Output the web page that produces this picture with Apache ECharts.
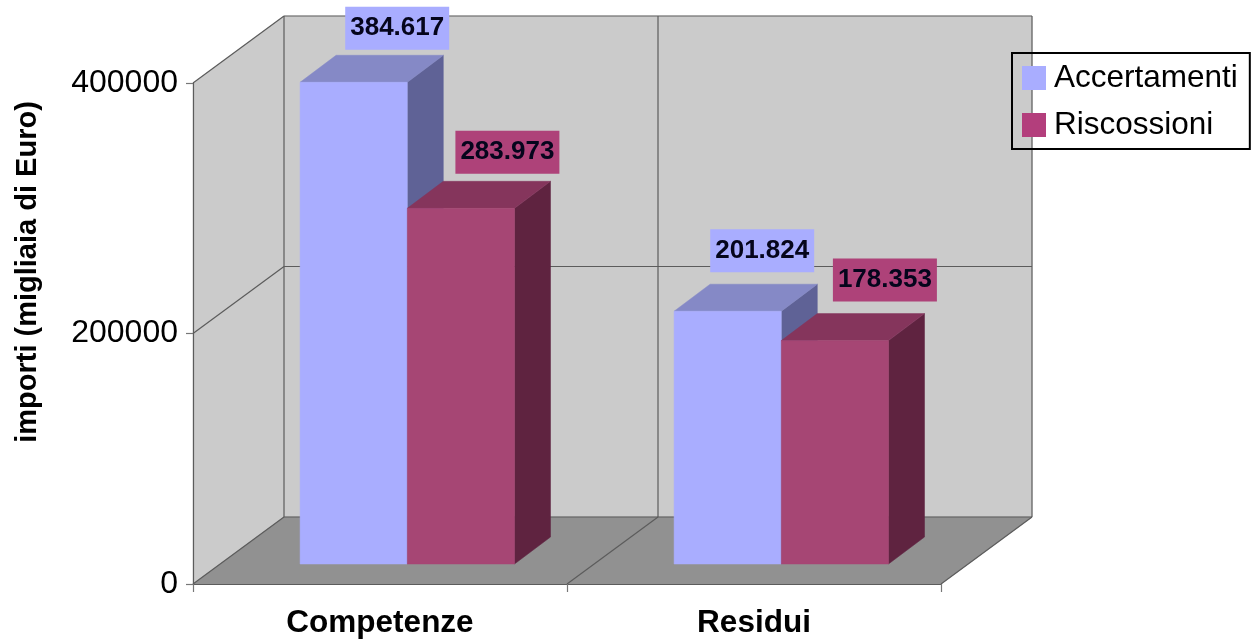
<!DOCTYPE html>
<html>
<head>
<meta charset="utf-8">
<style>html,body{margin:0;padding:0;background:#fff}#c{width:1255px;height:639px}</style>
<script src="https://cdn.jsdelivr.net/npm/echarts@6/dist/echarts.min.js"></script>
</head>
<body>
<div id="c"></div>
<script>
const categories = ['Competenze', 'Residui'];
const accertamenti = [384617, 201824];
const riscossioni = [283973, 178353];
const yTicks = { min: 0, max: 400000, interval: 200000 };

// Oblique projection layout (pixels)
const FONT = '"Liberation Sans", Arial, sans-serif';
const WALL = [91, -67];       // front plane -> back wall
const BAR_SHIFT = [27.3, -20]; // front plane -> bar front face
const BAR_DEPTH = [36, -27];  // bar front face -> bar back face
const BAR_RATIO = 107.2 / 374;
// hand-placed label offsets from each bar's top-centre, as in the original
const labelNudge = {
  Accertamenti: [[43.5, -54], [34.5, -60.5]],
  Riscossioni: [[46.5, -56], [50, -60.5]]
};
const shades = {
  Accertamenti: { front: '#A9ADFF', top: '#8589C6', side: '#5F6296', label: '#A9ADFF' },
  Riscossioni: { front: '#A64674', top: '#85355C', side: '#5F2340', label: '#AE4279' }
};
const WALL_FILL = '#CBCBCB', FLOOR_FILL = '#919191', LINE = '#5C5C5C';

function poly(points, fill, stroke) {
  return { type: 'polygon', shape: { points }, style: { fill, stroke: stroke || fill, lineWidth: stroke ? 1.2 : 0.5 } };
}
function seg(a, b) {
  return { type: 'line', shape: { x1: a[0], y1: a[1], x2: b[0], y2: b[1] }, style: { stroke: LINE, lineWidth: 1.2 } };
}
const back = p => [p[0] + WALL[0], p[1] + WALL[1]];

function renderFrame(params, api) {
  const cs = params.coordSys;
  const L = cs.x, R = cs.x + cs.width, M = cs.x + cs.width / 2;
  const y0 = api.coord([0, 0])[1];
  const yMid = api.coord([0, yTicks.interval])[1];
  const yMax = api.coord([0, yTicks.max])[1];
  const fl = [L, y0], fr = [R, y0], tl = [L, yMax];
  const bfl = back(fl), bfr = back(fr), btl = back(tl), btr = back([R, yMax]);
  return {
    type: 'group',
    children: [
      poly([bfl, bfr, btr, btl], WALL_FILL),
      poly([fl, bfl, btl, tl], WALL_FILL),
      poly([fl, fr, bfr, bfl], FLOOR_FILL),
      seg(tl, btl), seg(btl, btr), seg(btl, bfl), seg(btr, bfr),
      seg(bfl, bfr), seg(fl, bfl), seg(fr, bfr),
      seg([L, yMid], back([L, yMid])), seg(back([L, yMid]), back([R, yMid])),
      seg(back([M, yMax]), back([M, y0])), seg([M, y0], back([M, y0]))
    ]
  };
}

function barRenderer(name, order) {
  const c = shades[name];
  return function (params, api) {
    const i = api.value(0), v = api.value(1);
    const w = api.size([1, 0])[0] * BAR_RATIO;
    const cx = api.coord([i, 0])[0] + BAR_SHIFT[0];
    const x1 = cx + (order - 1) * w, x2 = x1 + w;
    const yb = api.coord([i, 0])[1] + BAR_SHIFT[1];
    const yt = api.coord([i, v])[1] + BAR_SHIFT[1];
    const dx = BAR_DEPTH[0], dy = BAR_DEPTH[1];
    const nudge = labelNudge[name][i];
    return {
      type: 'group',
      children: [
        poly([[x2, yb], [x2 + dx, yb + dy], [x2 + dx, yt + dy], [x2, yt]], c.side),
        poly([[x1, yt], [x2, yt], [x2 + dx, yt + dy], [x1 + dx, yt + dy]], c.top),
        poly([[x1, yb], [x2, yb], [x2, yt], [x1, yt]], c.front),
        {
          type: 'text',
          x: (x1 + x2) / 2 + nudge[0],
          y: yt + nudge[1],
          style: {
            text: String(v).replace(/\B(?=(\d{3})+$)/g, '.'),
            font: 'bold 26px ' + FONT,
            fill: '#05051C',
            align: 'center',
            verticalAlign: 'middle',
            backgroundColor: c.label,
            padding: [10, 5, 7, 5]
          }
        }
      ]
    };
  };
}

function pairs(values) { return values.map((v, i) => [i, v]); }

const chart = echarts.init(document.getElementById('c'), null, { renderer: 'canvas' });
chart.setOption({
  animation: false,
  backgroundColor: '#fff',
  grid: { left: 193, top: 83, right: 314, bottom: 55, outerBoundsMode: 'none' },
  legend: {
    data: ['Accertamenti', 'Riscossioni'],
    orient: 'vertical',
    left: 1012,
    top: 53,
    padding: [9, 12, 8, 10],
    itemWidth: 24,
    itemHeight: 24,
    itemGap: 15,
    icon: 'rect',
    borderColor: '#000',
    borderWidth: 2,
    textStyle: { fontFamily: FONT, fontSize: 31.5, color: '#000', padding: [4, 0, 0, 3] }
  },
  xAxis: {
    type: 'category',
    data: categories,
    z: 1,
    axisLine: { lineStyle: { color: LINE, width: 1.2 } },
    axisTick: { show: true, length: 8, alignWithLabel: false, lineStyle: { color: '#777', width: 1.2 } },
    axisLabel: { fontFamily: FONT, fontSize: 31.5, fontWeight: 'bold', color: '#000', margin: 23 }
  },
  yAxis: {
    type: 'value',
    min: yTicks.min,
    max: yTicks.max,
    interval: yTicks.interval,
    z: 1,
    name: 'importi (migliaia di Euro)',
    nameLocation: 'middle',
    nameRotate: 90,
    nameGap: 151,
    nameTextStyle: { fontFamily: FONT, fontSize: 29, fontWeight: 'bold', color: '#000', padding: [0, 0, 0, 123] },
    splitLine: { show: false },
    axisLine: { show: true, lineStyle: { color: LINE, width: 1.2 } },
    axisTick: { show: true, length: 7, lineStyle: { color: '#777', width: 1.2 } },
    axisLabel: { fontFamily: FONT, fontSize: 32, color: '#000', margin: 15, padding: [4, 0, 0, 0], formatter: v => String(v) }
  },
  series: [
    { type: 'custom', name: 'frame', silent: true, z: 0, renderItem: renderFrame, data: [[0, 0]], encode: { x: 0, y: 1 } },
    { type: 'custom', name: 'Accertamenti', z: 2, itemStyle: { color: shades.Accertamenti.front }, renderItem: barRenderer('Accertamenti', 0), data: pairs(accertamenti), encode: { x: 0, y: 1 } },
    { type: 'custom', name: 'Riscossioni', z: 3, itemStyle: { color: '#B33E7C' }, renderItem: barRenderer('Riscossioni', 1), data: pairs(riscossioni), encode: { x: 0, y: 1 } }
  ]
});
</script>
</body>
</html>
